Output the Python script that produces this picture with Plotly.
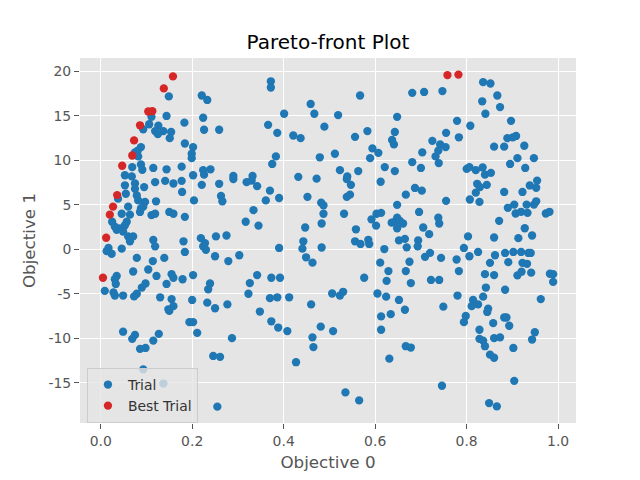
import plotly.graph_objects as go

# Trial points (Objective 0, Objective 1)
trial_pts = [
    (0.149,17.2),(0.111,14.9),(0.144,15.0),(0.183,14.25),(0.106,14.07),(0.093,13.5),(0.126,13.9),
    (0.119,13.3),(0.125,12.95),(0.137,13.3),(0.154,13.2),(0.151,12.5),(0.088,11.5),(0.081,11.1),
    (0.075,10.9),(0.082,10.45),(0.184,11.9),(0.069,9.25),(0.088,9.55),(0.091,8.95),(0.115,9.15),
    (0.144,9.0),(0.177,9.3),(0.053,8.33),(0.068,8.2),
    (0.372,18.9),(0.372,18.2),(0.221,17.3),(0.233,16.8),(0.459,16.35),(0.467,15.25),(0.401,15.25),
    (0.224,14.8),(0.226,13.45),(0.259,13.45),(0.366,14.0),(0.386,13.1),(0.421,12.8),(0.437,12.5),
    (0.489,13.8),(0.202,11.5),(0.199,10.75),(0.199,10.25),(0.383,10.45),(0.375,9.6),(0.479,10.35),
    (0.224,8.9),(0.240,9.0),(0.226,8.4),(0.202,8.33),(0.290,8.25),(0.332,8.25),(0.432,8.15),(0.472,7.95),
    (0.681,17.6),(0.707,17.7),(0.747,17.8),(0.567,17.3),(0.519,15.1),(0.648,14.9),(0.779,14.45),
    (0.583,13.3),(0.556,12.65),(0.643,13.2),(0.637,12.3),(0.641,11.8),(0.755,13.1),(0.783,12.6),
    (0.725,12.2),(0.742,11.8),(0.754,11.5),(0.738,11.1),(0.732,10.45),(0.739,9.7),(0.703,10.9),
    (0.594,11.35),(0.607,10.85),(0.589,10.25),(0.512,10.75),(0.681,9.8),(0.700,9.15),(0.523,8.9),
    (0.539,8.2),(0.563,8.8),(0.621,9.25),(0.643,8.8),
    (0.836,18.8),(0.852,18.65),(0.867,17.3),(0.834,16.65),(0.873,16.0),(0.841,15.25),(0.897,14.45),
    (0.808,13.9),(0.889,12.5),(0.908,12.75),(0.901,12.6),(0.860,11.55),(0.882,11.55),(0.926,11.65),
    (0.895,9.6),(0.911,10.25),(0.947,10.25),(0.928,9.15),(0.800,9.05),(0.806,9.25),(0.820,8.9),
    (0.835,9.2),(0.840,8.4),(0.853,8.6),
    (0.053,7.2),(0.075,7.4),(0.095,7.0),(0.119,7.55),(0.141,7.7),(0.159,7.4),(0.177,7.7),(0.055,6.25),
    (0.075,6.8),(0.079,6.05),(0.082,5.5),(0.038,5.7),(0.097,5.33),(0.093,4.8),(0.121,5.4),(0.060,4.8),
    (0.046,4.0),(0.064,3.9),(0.086,4.2),(0.088,4.6),(0.111,3.85),(0.119,4.0),(0.178,6.45),(0.150,4.2),
    (0.159,4.0),(0.184,3.65),(0.025,3.1),(0.057,3.1),(0.053,2.7),(0.042,2.35),(0.035,2.2),(0.031,2.55),
    (0.049,2.0),(0.060,1.45),(0.071,1.45),(0.064,0.9),(0.046,0.07),(0.017,0.15),(0.013,-0.2),
    (0.024,-0.5),(0.115,1.05),(0.119,0.33),(0.139,-0.97),(0.114,-1.33),(0.079,-0.97),(0.104,-2.27),
    (0.071,-2.5),(0.122,-3.0),(0.155,-2.8),(0.159,-3.2),(0.179,-3.37),(0.035,-3.0),(0.031,-3.37),
    (0.033,-3.9),(0.144,-3.9),(0.181,0.9),(0.184,-0.3),(0.009,-4.67),(0.028,-4.85),(0.031,-5.2),
    (0.049,-5.2),(0.079,-5.0),(0.073,-5.3),(0.090,-4.3),(0.098,-3.85),(0.130,-5.4),(0.155,-5.6),
    (0.159,-6.4),(0.148,-6.75),(0.150,-6.93),(0.049,-9.27),(0.075,-9.63),(0.069,-10.07),(0.086,-11.2),
    (0.098,-11.1),(0.115,-10.27),(0.127,-9.52),(0.093,-13.5),(0.137,-15.1),(0.194,-8.2),
    (0.221,7.25),(0.259,7.37),(0.290,7.9),(0.319,7.55),(0.330,7.73),(0.342,7.1),(0.370,6.6),(0.204,5.5),
    (0.263,6.0),(0.266,5.4),(0.361,5.5),(0.390,5.77),(0.452,5.9),(0.482,5.25),(0.487,4.95),(0.487,4.0),
    (0.483,2.9),(0.334,4.4),(0.317,3.1),(0.345,2.67),(0.447,2.45),(0.219,1.25),(0.228,0.7),(0.224,0.33),
    (0.230,-0.05),(0.252,1.45),(0.275,1.55),(0.443,0.9),(0.441,0.07),(0.390,0.15),(0.483,0.2),
    (0.250,-0.78),(0.279,-1.33),(0.303,-0.67),(0.449,-0.9),(0.463,-1.5),(0.202,-2.9),(0.342,-2.9),
    (0.373,-3.2),(0.392,-3.2),(0.239,-3.85),(0.235,-4.5),(0.326,-3.8),(0.323,-5.0),(0.370,-5.5),
    (0.386,-5.4),(0.412,-5.4),(0.200,-5.7),
    (0.233,-6.0),(0.250,-6.63),(0.277,-6.2),(0.202,-8.2),(0.211,-9.4),(0.287,-10.0),(0.246,-12.0),
    (0.261,-12.1),(0.255,-17.7),(0.348,-7.0),(0.373,-8.1),(0.388,-8.8),(0.408,-9.2),(0.460,-6.2),
    (0.481,-8.7),(0.463,-9.9),(0.465,-11.0),(0.427,-12.7),
    (0.538,7.9),(0.547,7.25),(0.612,7.6),(0.538,5.9),(0.545,6.15),(0.667,6.15),(0.687,6.9),(0.702,6.6),
    (0.648,5.0),(0.755,5.45),(0.532,4.0),(0.696,4.2),(0.738,3.55),(0.740,2.9),(0.592,3.37),(0.603,4.0),
    (0.613,4.1),(0.602,2.67),(0.636,3.0),(0.648,3.55),(0.648,2.37),(0.661,2.9),(0.643,3.1),(0.654,3.2),
    (0.558,2.25),(0.705,2.45),(0.718,1.7),(0.556,0.9),(0.568,0.6),(0.585,1.07),(0.587,0.6),(0.652,1.0),
    (0.665,1.17),(0.669,0.22),(0.694,1.0),(0.693,0.33),(0.620,0.03),(0.709,-0.85),(0.720,-0.4),
    (0.744,-0.97),(0.778,-1.15),(0.783,-2.45),(0.611,-1.5),(0.629,-2.45),(0.625,-3.55),(0.675,-1.4),
    (0.667,-2.45),(0.576,-3.2),(0.678,-3.8),(0.722,-3.45),(0.740,-3.45),(0.506,-4.97),(0.523,-5.2),
    (0.530,-4.78),(0.605,-4.97),(0.624,-5.33),(0.652,-5.7),(0.780,-5.2),
    (0.665,-6.8),(0.634,-7.3),(0.613,-7.55),(0.613,-9.05),(0.749,-6.45),(0.508,-9.2),(0.667,-10.9),
    (0.678,-11.05),(0.631,-12.3),(0.746,-15.35),(0.535,-16.1),(0.565,-17.0),
    (0.823,7.37),(0.844,7.25),(0.820,6.37),(0.829,7.0),(0.882,6.45),(0.922,6.45),(0.938,7.18),
    (0.952,6.92),(0.954,7.73),(0.807,5.6),(0.828,5.33),(0.890,4.67),(0.904,5.03),(0.907,4.03),
    (0.919,4.22),(0.931,5.03),(0.933,4.1),(0.947,5.03),(0.952,5.4),(0.973,4.03),(0.981,4.22),
    (0.871,3.2),(0.927,2.37),(0.803,1.45),(0.860,1.33),(0.913,1.25),(0.943,1.55),(0.794,0.15),
    (0.806,-0.78),(0.825,-0.3),(0.862,-0.67),(0.851,-1.52),(0.884,-0.41),(0.902,-0.3),(0.919,-0.3),
    (0.935,-0.41),(0.940,-0.41),(0.891,-1.45),(0.922,-1.52),(0.932,-1.63),(0.840,-2.8),(0.860,-2.9),
    (0.911,-2.93),(0.920,-2.52),(0.941,-2.63),(0.982,-2.75),(0.989,-2.8),(0.989,-3.67),(0.842,-4.3),
    (0.884,-4.55),(0.814,-5.7),(0.836,-5.33),(0.962,-5.6),
    (0.825,-6.2),(0.811,-6.4),(0.847,-6.67),(0.845,-7.05),(0.798,-7.5),(0.794,-8.2),(0.858,-8.3),
    (0.882,-7.67),(0.887,-7.67),(0.893,-8.6),(0.828,-9.05),(0.828,-10.07),(0.836,-10.27),(0.840,-10.9),
    (0.860,-10.0),(0.873,-9.9),(0.851,-11.85),(0.860,-12.2),(0.902,-11.1),(0.949,-9.33),(0.943,-10.15),
    (0.904,-14.8),(0.849,-17.3),(0.866,-17.67),
]
trial_obj0 = [p[0] for p in trial_pts]
trial_obj1 = [p[1] for p in trial_pts]

best_obj0 = [0.005, 0.012, 0.020, 0.027, 0.036, 0.047, 0.069, 0.073, 0.086, 0.104, 0.113, 0.138, 0.158, 0.758, 0.782]
best_obj1 = [-3.2, 1.3, 3.9, 4.8, 6.1, 9.4, 10.55, 12.25, 13.95, 15.5, 15.55, 18.1, 19.45, 19.6, 19.65]

x_ticks = [0.0, 0.2, 0.4, 0.6, 0.8, 1.0]
y_ticks = [-15, -10, -5, 0, 5, 10, 15, 20]

FONT = "DejaVu Sans"
GRAY = "#555555"

fig = go.Figure()
fig.add_trace(go.Scatter(x=trial_obj0, y=trial_obj1, mode="markers", name="Trial",
                         marker=dict(color="#1f77b4", size=8.3, line=dict(width=0))))
fig.add_trace(go.Scatter(x=best_obj0, y=best_obj1, mode="markers", name="Best Trial",
                         marker=dict(color="#d62728", size=8.3, line=dict(width=0))))

axis_common = dict(showgrid=True, gridcolor="white", gridwidth=1.1, zeroline=False,
                   showline=False, ticks="outside", ticklen=5, tickwidth=1.1, tickcolor=GRAY,
                   tickfont=dict(family=FONT, size=13.9, color=GRAY))

fig.update_layout(
    width=640, height=480, autosize=False,
    margin=dict(l=80, r=64, t=57.6, b=52.8),
    paper_bgcolor="white", plot_bgcolor="#E5E5E5",
    font=dict(family=FONT, color=GRAY),
    title=dict(text="Pareto-front Plot", x=0.5, xanchor="center", xref="paper",
               y=1 - 42 / 480, yref="container", yanchor="middle",
               font=dict(family=FONT, size=20, color="black")),
    xaxis=dict(range=[-0.0452, 1.039], tickvals=x_ticks, ticktext=[f"{v:.1f}" for v in x_ticks],
               title=dict(text="Objective 0", font=dict(family=FONT, size=16.7, color=GRAY), standoff=8),
               **axis_common),
    yaxis=dict(range=[-19.54, 21.52], tickvals=y_ticks, ticktext=[str(v) for v in y_ticks],
               title=dict(text="Objective 1", font=dict(family=FONT, size=16.7, color=GRAY), standoff=8),
               **axis_common),
    legend=dict(x=0.014, y=0.0, xanchor="left", yanchor="bottom",
                bgcolor="rgba(229,229,229,0.8)", bordercolor="#CCCCCC", borderwidth=1,
                font=dict(family=FONT, size=13.9, color="#333333")),
    showlegend=True,
)

fig.write_html("out.html", config={"displayModeBar": False},
               post_script="document.body.style.margin='0px';")
